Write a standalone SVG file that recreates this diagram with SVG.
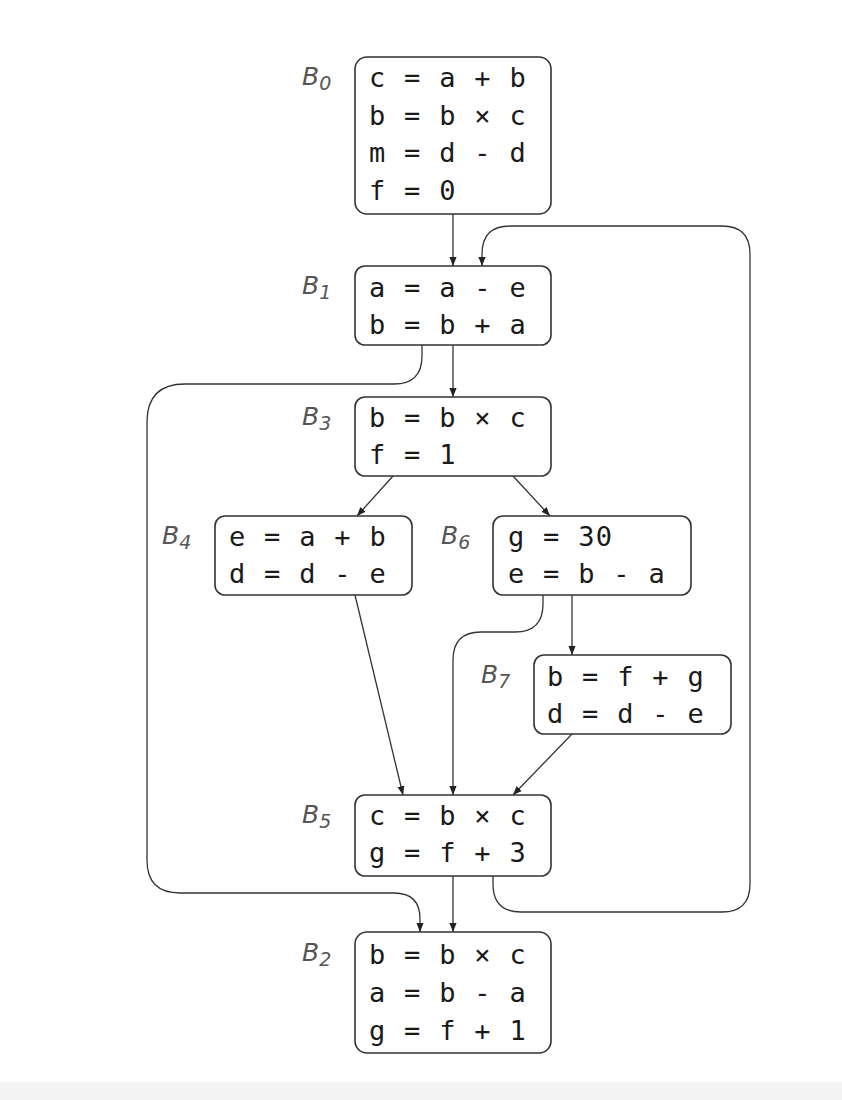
<svg xmlns="http://www.w3.org/2000/svg" width="842" height="1100" viewBox="0 0 842 1100">
<defs>
<style>
.box{fill:#fff;stroke:#333;stroke-width:1.6}
.code{font-family:"DejaVu Sans Mono","Liberation Mono",monospace;font-size:27px;letter-spacing:1.3px;fill:#1a1a1a}
.lab{font-family:"DejaVu Sans","Liberation Sans",sans-serif;font-style:italic;font-size:25px;fill:#555}
.sub{font-size:19px}
.edge{fill:none;stroke:#333;stroke-width:1.3;marker-end:url(#ah)}
</style>
<marker id="ah" viewBox="0 0 10 10" refX="10" refY="5" markerWidth="9" markerHeight="9" markerUnits="userSpaceOnUse" orient="auto">
<path d="M0,1 L10,5 L0,9 Z" fill="#222"/>
</marker>
</defs>
<rect width="842" height="1100" fill="#fff"/>
<rect x="0" y="1082" width="842" height="18" fill="#f4f4f4"/>

<g id="connectors">
<path class="edge" d="M453,214 L453,266"/>
<path class="edge" d="M493,876 L493,884 Q493,912 521,912 L722,912 Q750,912 750,884 L750,254 Q750,226 722,226 L510,226 Q482,226 482,254 L482,266"/>
<path class="edge" d="M453,345 L453,397"/>
<path class="edge" d="M422,345 L422,356 Q422,384 394,384 L185,384 Q147,384 147,422 L147,860 Q147,893 180,893 L394,893 Q420,893 420,919 L420,932"/>
<path class="edge" d="M393,476 L357,516"/>
<path class="edge" d="M513,476 L550,516"/>
<path class="edge" d="M355,595 L403,795"/>
<path class="edge" d="M572,595 L572,655"/>
<path class="edge" d="M543,595 L543,604 Q543,632 515,632 L481,632 Q453,632 453,660 L453,795"/>
<path class="edge" d="M572,734 L513,795"/>
<path class="edge" d="M453,876 L453,932"/>
</g>

<g id="B0">
<rect class="box" x="355" y="57" width="196" height="157" rx="12"/>
<text class="lab" x="302" y="85">B<tspan class="sub" dy="5">0</tspan></text>
<text class="code" x="369" y="87">c = a + b</text>
<text class="code" x="369" y="125">b = b × c</text>
<text class="code" x="369" y="162">m = d - d</text>
<text class="code" x="369" y="200">f = 0</text>
</g>

<g id="B1">
<rect class="box" x="355" y="266" width="196" height="79" rx="10"/>
<text class="lab" x="302" y="294">B<tspan class="sub" dy="5">1</tspan></text>
<text class="code" x="369" y="297">a = a - e</text>
<text class="code" x="369" y="334">b = b + a</text>
</g>

<g id="B3">
<rect class="box" x="355" y="397" width="196" height="79" rx="10"/>
<text class="lab" x="302" y="425">B<tspan class="sub" dy="5">3</tspan></text>
<text class="code" x="369" y="427">b = b × c</text>
<text class="code" x="369" y="464">f = 1</text>
</g>

<g id="B4">
<rect class="box" x="215" y="516" width="197" height="79" rx="10"/>
<text class="lab" x="162" y="544">B<tspan class="sub" dy="5">4</tspan></text>
<text class="code" x="229" y="546">e = a + b</text>
<text class="code" x="229" y="583">d = d - e</text>
</g>

<g id="B6">
<rect class="box" x="493" y="516" width="198" height="79" rx="10"/>
<text class="lab" x="441" y="544">B<tspan class="sub" dy="5">6</tspan></text>
<text class="code" x="508" y="546">g = 30</text>
<text class="code" x="508" y="583">e = b - a</text>
</g>

<g id="B7">
<rect class="box" x="534" y="655" width="197" height="79" rx="10"/>
<text class="lab" x="481" y="683">B<tspan class="sub" dy="5">7</tspan></text>
<text class="code" x="547" y="686">b = f + g</text>
<text class="code" x="547" y="723">d = d - e</text>
</g>

<g id="B5">
<rect class="box" x="355" y="795" width="196" height="81" rx="10"/>
<text class="lab" x="302" y="823">B<tspan class="sub" dy="5">5</tspan></text>
<text class="code" x="369" y="825">c = b × c</text>
<text class="code" x="369" y="862">g = f + 3</text>
</g>

<g id="B2">
<rect class="box" x="355" y="932" width="196" height="121" rx="12"/>
<text class="lab" x="302" y="961">B<tspan class="sub" dy="5">2</tspan></text>
<text class="code" x="369" y="964">b = b × c</text>
<text class="code" x="369" y="1002">a = b - a</text>
<text class="code" x="369" y="1040">g = f + 1</text>
</g>
</svg>
